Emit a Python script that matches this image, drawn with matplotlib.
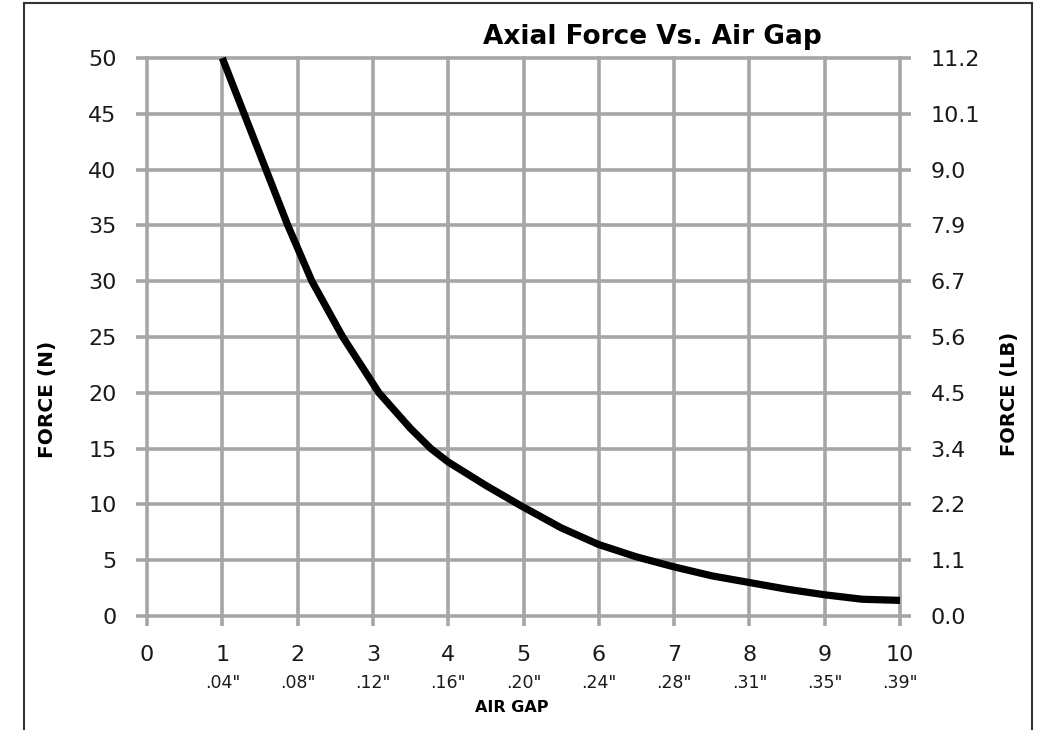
import matplotlib
matplotlib.use("Agg")
import matplotlib.pyplot as plt
from matplotlib.patches import Rectangle
import matplotlib.transforms as mtransforms

# air gap (mm) vs axial force (N)
gap = [1.0, 1.29, 1.58, 1.87, 2.19, 2.6, 3.08, 3.5, 3.77, 4.0, 4.5,
       4.96, 5.5, 6.0, 6.5, 7.0, 7.5, 8.0, 8.5, 9.0, 9.5, 10.0]
force = [50, 45, 40, 35, 30, 25, 20, 16.8, 15, 13.8, 11.7,
         9.9, 7.9, 6.4, 5.3, 4.4, 3.6, 3.0, 2.4, 1.9, 1.5, 1.4]

x_ticks = list(range(11))
inch_labels = ['', '.04"', '.08"', '.12"', '.16"', '.20"', '.24"', '.28"', '.31"', '.35"', '.39"']
y_ticks = list(range(0, 55, 5))
lb_labels = ['0.0', '1.1', '2.2', '3.4', '4.5', '5.6', '6.7', '7.9', '9.0', '10.1', '11.2']

W, H = 1046, 730
grid_c = '#a6a6a6'
grid_w = 2.6

fig = plt.figure(figsize=(W / 100, H / 100), dpi=100)
ax = fig.add_axes([147 / W, 1 - 616 / H, (900 - 147) / W, (616 - 58) / H])

ax.plot(gap, force, color='black', lw=5.2, solid_capstyle='butt',
        solid_joinstyle='round', zorder=5, clip_on=False)

ax.set_xlim(0, 10)
ax.set_ylim(0, 50)
ax.set_xticks(x_ticks)
ax.set_yticks(y_ticks)
ax.grid(True, color=grid_c, lw=grid_w)
ax.set_axisbelow(True)
for l in ax.get_xgridlines() + ax.get_ygridlines():
    l.set_clip_on(False)
for s in ax.spines.values():
    s.set_visible(False)

ax.tick_params(axis='y', length=8, width=grid_w, color=grid_c, pad=14,
               labelsize=16, labelcolor='#1a1a1a')
ax.tick_params(axis='x', length=7, width=grid_w, color=grid_c, pad=14,
               labelsize=16, labelcolor='#1a1a1a')

ax2 = ax.twinx()
ax2.set_ylim(0, 50)
ax2.set_yticks(y_ticks)
ax2.set_yticklabels(lb_labels)
for s in ax2.spines.values():
    s.set_visible(False)
ax2.tick_params(axis='y', length=8, width=grid_w, color=grid_c, pad=14,
                labelsize=16, labelcolor='#1a1a1a')

trans = mtransforms.blended_transform_factory(ax.transData, ax.transAxes)
for xv, lab in zip(x_ticks, inch_labels):
    ax.text(xv, -0.12, lab, transform=trans, ha='center', va='center',
            fontsize=12.5, color='#1a1a1a')

fig.text(512 / W, 1 - 708 / H, 'AIR GAP', ha='center', va='center',
         fontsize=11.5, fontweight='bold')
fig.text(47 / W, 1 - 399 / H, 'FORCE (N)', ha='center', va='center',
         rotation=90, fontsize=14.5, fontweight='bold')
fig.text(1010 / W, 1 - 394 / H, 'FORCE (LB)', ha='center', va='center',
         rotation=90, fontsize=14, fontweight='bold')
fig.text(652 / W, 1 - 37 / H, 'Axial Force Vs. Air Gap', ha='center', va='center',
         fontsize=19, fontweight='bold')

# outer frame
fig.patches.append(Rectangle((24 / W, -0.05), (1032 - 24) / W, 1.05 - 3 / H,
                             transform=fig.transFigure, fill=False,
                             edgecolor='#333333', lw=1.5))

fig.savefig('out.png', dpi=100)
